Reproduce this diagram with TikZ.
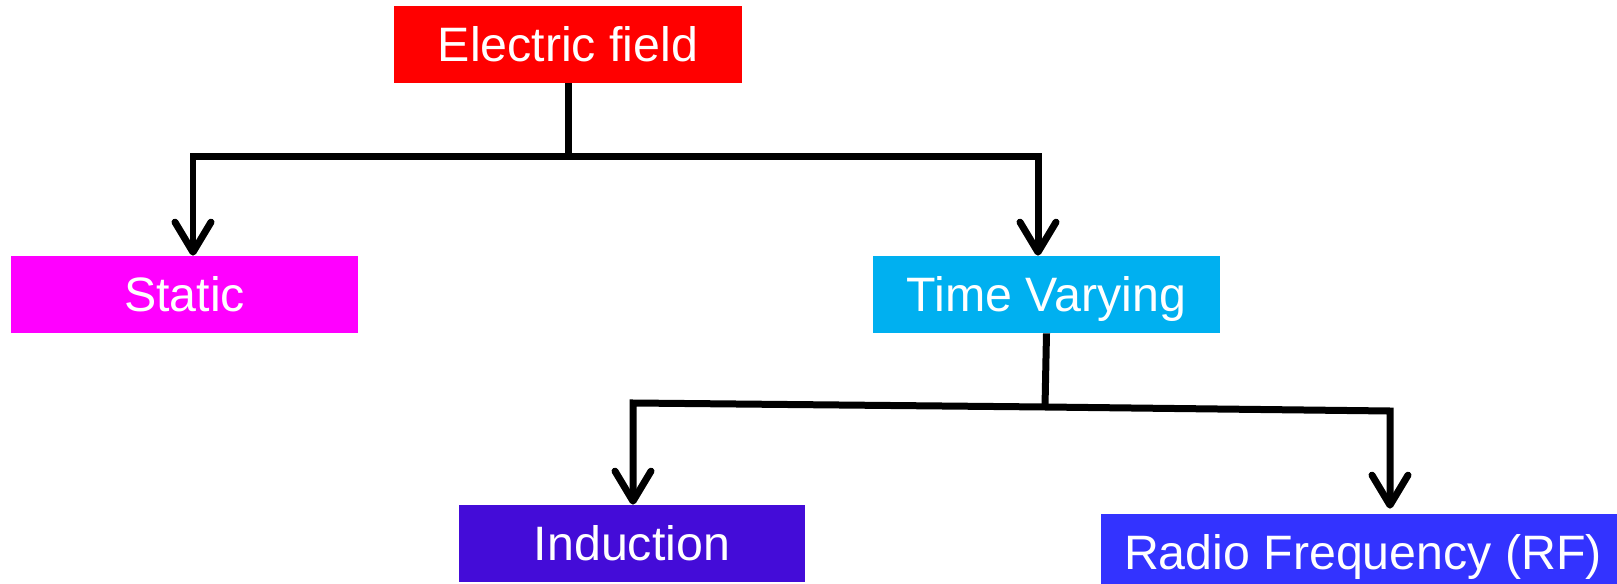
\documentclass[tikz,border=0pt]{standalone}
\usepackage{fontspec}
\setmainfont{Liberation Sans}
\usepackage{xcolor}
\usepackage{tikz}
\usetikzlibrary{arrows.meta,positioning,calc}

\definecolor{fieldred}{HTML}{FF0000}
\definecolor{staticpink}{HTML}{FF00FF}
\definecolor{varyblue}{HTML}{00B0F0}
\definecolor{inductviolet}{HTML}{440CD8}
\definecolor{rfblue}{HTML}{3333FF}

\begin{document}
\begin{tikzpicture}[
    x=0.02cm,
    y=-0.02cm,
    >={Straight Barb[length=0.6cm,width=0.72cm,round]},
    box/.style={rectangle, inner sep=0pt, minimum width=6.94cm, minimum height=1.54cm,
        text height=0.92cm, text depth=0.22cm,
        text=white, font=\fontsize{27.5}{32}\selectfont},
    wire/.style={line width=0.14cm, black},
    arrow/.style={wire, ->}
]
    \useasboundingbox (0,0) rectangle (1617,584);

    % Boxes - root on top, two levels below
    \node[box, fill=fieldred, minimum width=6.96cm] (electric) at (568,44.5) {Electric field};
    \node[box, fill=staticpink] (static) at (184.5,294.5) {Static};
    \node[box, fill=varyblue] (varying) at (1046.5,294.5) {Time Varying};
    \node[box, fill=inductviolet] (induction) at (632,543.5) {Induction};
    \node[box, fill=rfblue, minimum width=10.48cm] (radio) at (1363,552.5) {Radio Frequency (RF)};

    % Split points
    \coordinate (split) at (568,157);
    \coordinate (lowsplit) at (1045,407);
    \coordinate (lowleft) at (633,403);
    \coordinate (lowright) at (1390,411);

    % First level
    \draw[wire] (electric.south) -- (split);
    \draw[arrow] (split) -| ([xshift=0.17cm]static.north);
    \draw[arrow] (split) -| ([xshift=-0.17cm]varying.north);

    % Second level
    \draw[wire] (varying.south) -- (lowsplit);
    \draw[arrow] (lowsplit) -- (lowleft) -- (lowleft |- induction.north);
    \draw[arrow, shorten >=0.1cm] (lowsplit) -- (lowright) -- (lowright |- radio.north);

\end{tikzpicture}
\end{document}
